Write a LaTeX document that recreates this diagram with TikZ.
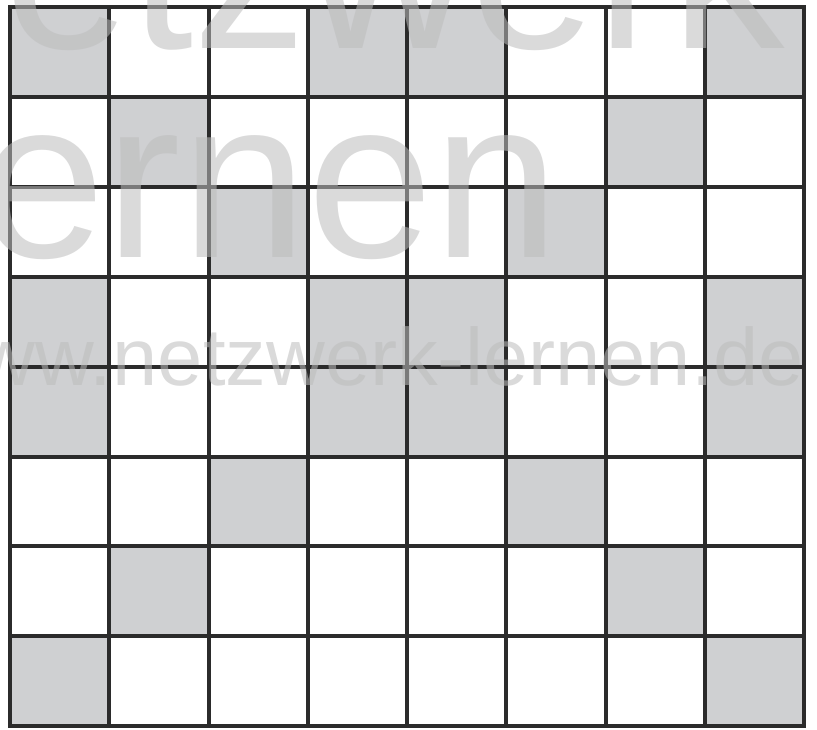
\documentclass[tikz,border=0pt]{standalone}
\usepackage{fontspec}
\setmainfont{Liberation Sans}
\definecolor{cellgray}{RGB}{207,208,210}
\definecolor{gridline}{RGB}{43,43,43}
\definecolor{markgray}{RGB}{188,188,188}
\tikzset{
  cell/.style={fill=cellgray},
  gridrule/.style={draw=gridline, line width=3pt, line cap=rect},
  watermark/.style={inner sep=0pt, text=markgray, text opacity=0.55},
}
\begin{document}
\begin{tikzpicture}[x=0.75pt,y=-0.75pt]
\useasboundingbox (0,0) rectangle (817,729);
\clip (0,0) rectangle (817,729);
% gray cells (column, row)
\foreach \c/\r in {1/1,4/1,5/1,8/1,2/2,7/2,3/3,6/3,1/4,4/4,5/4,8/4,
                   1/5,4/5,5/5,8/5,3/6,6/6,2/7,7/7,1/8,8/8}
  \fill[cell] ({10+99.25*(\c-1)},{7+89.9*(\r-1)}) rectangle ({10+99.25*\c},{7+89.9*\r});
% grid
\foreach \i in {0,...,8} {
  \draw[gridrule] ({10+99.25*\i},7) -- ({10+99.25*\i},726.2);
  \draw[gridrule] (10,{7+89.9*\i}) -- (804,{7+89.9*\i});
}
% watermark
\node[watermark, anchor=base west, font=\fontsize{170}{170}\selectfont] (wmtop) at (-122,48) {netzwerk};
\node[watermark, anchor=base east, font=\fontsize{170}{170}\selectfont] (wmmid) at (560,257) {lernen};
\node[watermark, anchor=base west, font=\fontsize{61}{61}\selectfont] (wmurl) at (-82,385) {www.netzwerk-lernen.de};
\end{tikzpicture}
\end{document}
